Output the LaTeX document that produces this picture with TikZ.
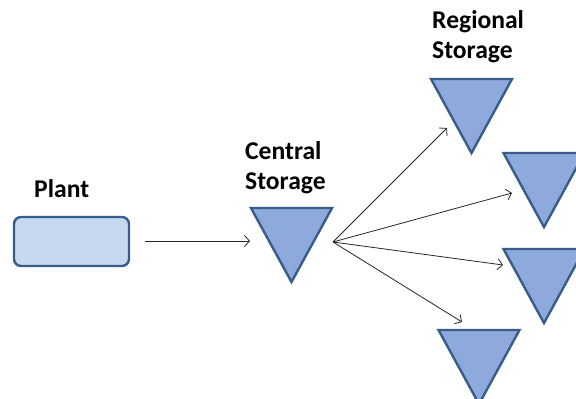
\documentclass[tikz,border=0pt]{standalone}
\usepackage{fontspec}
\setmainfont{Carlito}
\usetikzlibrary{arrows.meta}
\definecolor{boxfill}{RGB}{198,217,241}
\definecolor{trifill}{RGB}{142,169,219}
\definecolor{edge}{RGB}{56,93,138}
\tikzset{
  label/.style={anchor=base west, inner sep=0pt, font=\bfseries\fontsize{25.6}{30.5}\selectfont},
  plantbox/.style={draw=edge, fill=boxfill, line width=2.4pt, rounded corners=7pt},
  flow/.style={draw=black!85, line width=0.8pt, -{Straight Barb[length=5pt,width=11pt,line width=0.8pt]}},
  storage/.pic={
    \draw[draw=edge, fill=trifill, line width=2.4pt, line join=miter]
      (-40.5,0) -- (40.5,0) -- (0,74) -- cycle;
  }
}
\begin{document}
\begin{tikzpicture}[x=1pt, y=-1pt]
  \useasboundingbox (0,0) rectangle (576,399);

  % plant
  \draw[plantbox] (14,217) rectangle (129,266);
  \coordinate (plant-out) at (145,241);
  \node[label] (plant-lbl) at (34,197) {Plant};

  % central storage
  \pic at (291.5,208) {storage};
  \coordinate (central-in) at (250,241);
  \coordinate (central-out) at (333,242);
  \node[label] (central-lbl) at (245,159)
    {\begin{tabular}[t]{@{}l@{}}Central\\Storage\end{tabular}};

  % regional storages
  \pic at (471.5,79) {storage};
  \pic at (544,153) {storage};
  \pic at (544,249) {storage};
  \pic at (479,330) {storage};
  \node[label] (regional-lbl) at (432,28)
    {\begin{tabular}[t]{@{}l@{}}Regional\\Storage\end{tabular}};

  \coordinate (r1) at (447,128);
  \coordinate (r2) at (512,193);
  \coordinate (r3) at (503,265);
  \coordinate (r4) at (462,322);

  % flows
  \draw[flow] (plant-out) -- (central-in);
  \foreach \r in {r1,r2,r3,r4}
    \draw[flow] (central-out) -- (\r);
\end{tikzpicture}
\end{document}
